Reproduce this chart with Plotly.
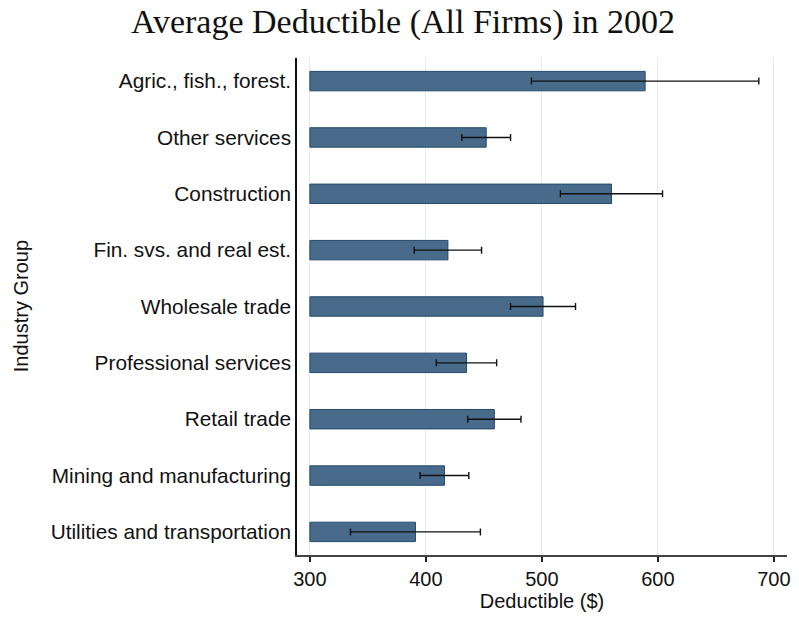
import plotly.graph_objects as go

# Industry groups, top to bottom
industries = [
    "Agric., fish., forest.",
    "Other services",
    "Construction",
    "Fin. svs. and real est.",
    "Wholesale trade",
    "Professional services",
    "Retail trade",
    "Mining and manufacturing",
    "Utilities and transportation",
]

# Average deductible ($) and 95% confidence bounds
mean_deductible = [589, 452, 560, 419, 501, 435, 459, 416, 391]
ci_low = [491, 431, 516, 390, 473, 409, 436, 395, 335]
ci_high = [687, 473, 604, 448, 529, 461, 482, 437, 447]

x_ticks = [300, 400, 500, 600, 700]
bar_base = 300

W, H = 799, 617
L, R, T, B = 297, 9, 58, 60

sans = "Liberation Sans, Arial, Helvetica, sans-serif"
serif = "Liberation Serif, Times New Roman, serif"

fig = go.Figure()

fig.add_trace(go.Bar(
    y=industries,
    x=[m - bar_base for m in mean_deductible],
    base=bar_base,
    orientation="h",
    width=0.345,
    marker=dict(color="#486a8b", line=dict(color="#24496d", width=1)),
    hoverinfo="skip",
    showlegend=False,
))

fig.add_trace(go.Scatter(
    y=industries,
    x=mean_deductible,
    mode="markers",
    marker=dict(size=1, color="rgba(0,0,0,0)"),
    error_x=dict(
        type="data",
        symmetric=False,
        array=[h - m for h, m in zip(ci_high, mean_deductible)],
        arrayminus=[m - l for m, l in zip(mean_deductible, ci_low)],
        color="#111111",
        thickness=1.4,
        width=3.5,
    ),
    hoverinfo="skip",
    showlegend=False,
))

fig.update_layout(
    width=W,
    height=H,
    margin=dict(l=L, r=R, t=T, b=B),
    paper_bgcolor="white",
    plot_bgcolor="white",
    title=dict(
        text="Average Deductible (All Firms) in 2002",
        font=dict(family=serif, size=34, color="#111111"),
        x=403 / W,
        xanchor="center",
        y=1 - 21 / H,
        yanchor="middle",
        xref="container",
        yref="container",
    ),
    xaxis=dict(
        range=[288.9, 711.3],
        tickvals=x_ticks,
        ticktext=[str(v) for v in x_ticks],
        showgrid=True,
        gridcolor="#e3ecf0",
        gridwidth=1,
        zeroline=False,
        showline=True,
        linecolor="#444444",
        linewidth=1.5,
        ticks="outside",
        ticklen=5,
        tickwidth=1.5,
        tickcolor="#222222",
        tickfont=dict(family=sans, size=20, color="#111111"),
        title=dict(text="Deductible ($)", font=dict(family=sans, size=20, color="#111111"), standoff=4),
        fixedrange=True,
    ),
    yaxis=dict(
        type="category",
        categoryorder="array",
        categoryarray=industries,
        range=[8.41, -0.41],
        showgrid=False,
        zeroline=False,
        showline=True,
        linecolor="#111111",
        linewidth=1.5,
        ticks="",
        tickfont=dict(family=sans, size=20.8, color="#111111"),
        fixedrange=True,
    ),
    annotations=[dict(
        text="Industry Group",
        xref="paper",
        yref="paper",
        x=(19 - L) / (W - L - R),
        y=0.5,
        xanchor="center",
        yanchor="middle",
        textangle=-90,
        showarrow=False,
        font=dict(family=sans, size=20, color="#111111"),
    )],
)

fig.write_html("out.html")
